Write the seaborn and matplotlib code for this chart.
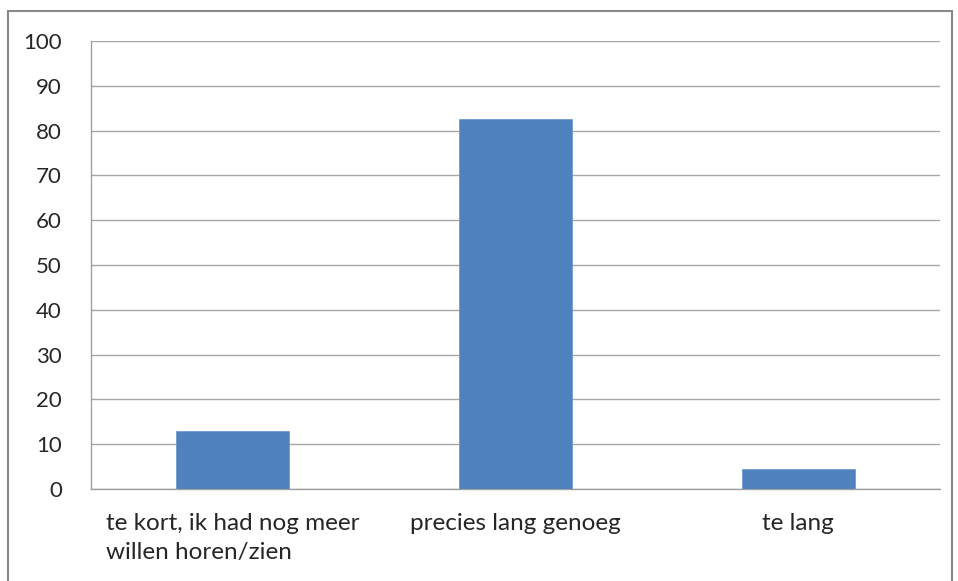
import numpy as np
import pandas as pd
import matplotlib
matplotlib.use("Agg")
import matplotlib.pyplot as plt
import seaborn as sns
from matplotlib.patches import Rectangle

# Data
categories = ["te kort, ik had nog meer\nwillen horen/zien", "precies lang genoeg", "te lang"]
values = [13.0, 82.5, 4.5]
y_ticks = list(range(0, 101, 10))

df = pd.DataFrame({"cat": categories, "val": values})

sns.set_style("white")
plt.rcParams["font.family"] = ["Lato", "DejaVu Sans"]

fig = plt.figure(figsize=(9.58, 5.81), dpi=100)
ax = fig.add_axes([0.095, 0.1583, 0.886, 0.7711])

sns.barplot(data=df, x="cat", y="val", color="#4f81bd", saturation=1, width=0.4, ax=ax,
            edgecolor="#6f9ad0", linewidth=0.6, zorder=3)

ax.set_ylim(0, 100)
ax.set_xlim(-0.5, 2.5)
ax.set_yticks(y_ticks)
ax.yaxis.grid(True, color="#a6a6a6", linewidth=1.0, zorder=0)
ax.set_axisbelow(True)
ax.set_xlabel("")
ax.set_ylabel("")

# category boundary ticks on x
ax.set_xticks([-0.5, 0.5, 1.5, 2.5], minor=True)
ax.tick_params(axis="x", which="minor", length=8, color="#a0a0a0", width=1, direction="out")
ax.tick_params(axis="x", which="major", length=0, labelsize=17.5, labelcolor="#262626", pad=17)
ax.tick_params(axis="y", length=8, color="#a0a0a0", width=1, direction="out",
               labelsize=16, labelcolor="#262626", pad=13)
for lbl in ax.get_xticklabels():
    lbl.set_linespacing(1.5)
    lbl.set_multialignment("left")

for s in ["top", "right"]:
    ax.spines[s].set_visible(False)
for s in ["left", "bottom"]:
    ax.spines[s].set_color("#a0a0a0")
    ax.spines[s].set_linewidth(1.0)

# outer chart border
fig.patches.append(Rectangle((8 / 958, -0.01), 944 / 958, 1 - 11 / 581 + 0.01,
                             transform=fig.transFigure, fill=False,
                             edgecolor="#888888", linewidth=1.5))

fig.savefig("out.png", dpi=100)
